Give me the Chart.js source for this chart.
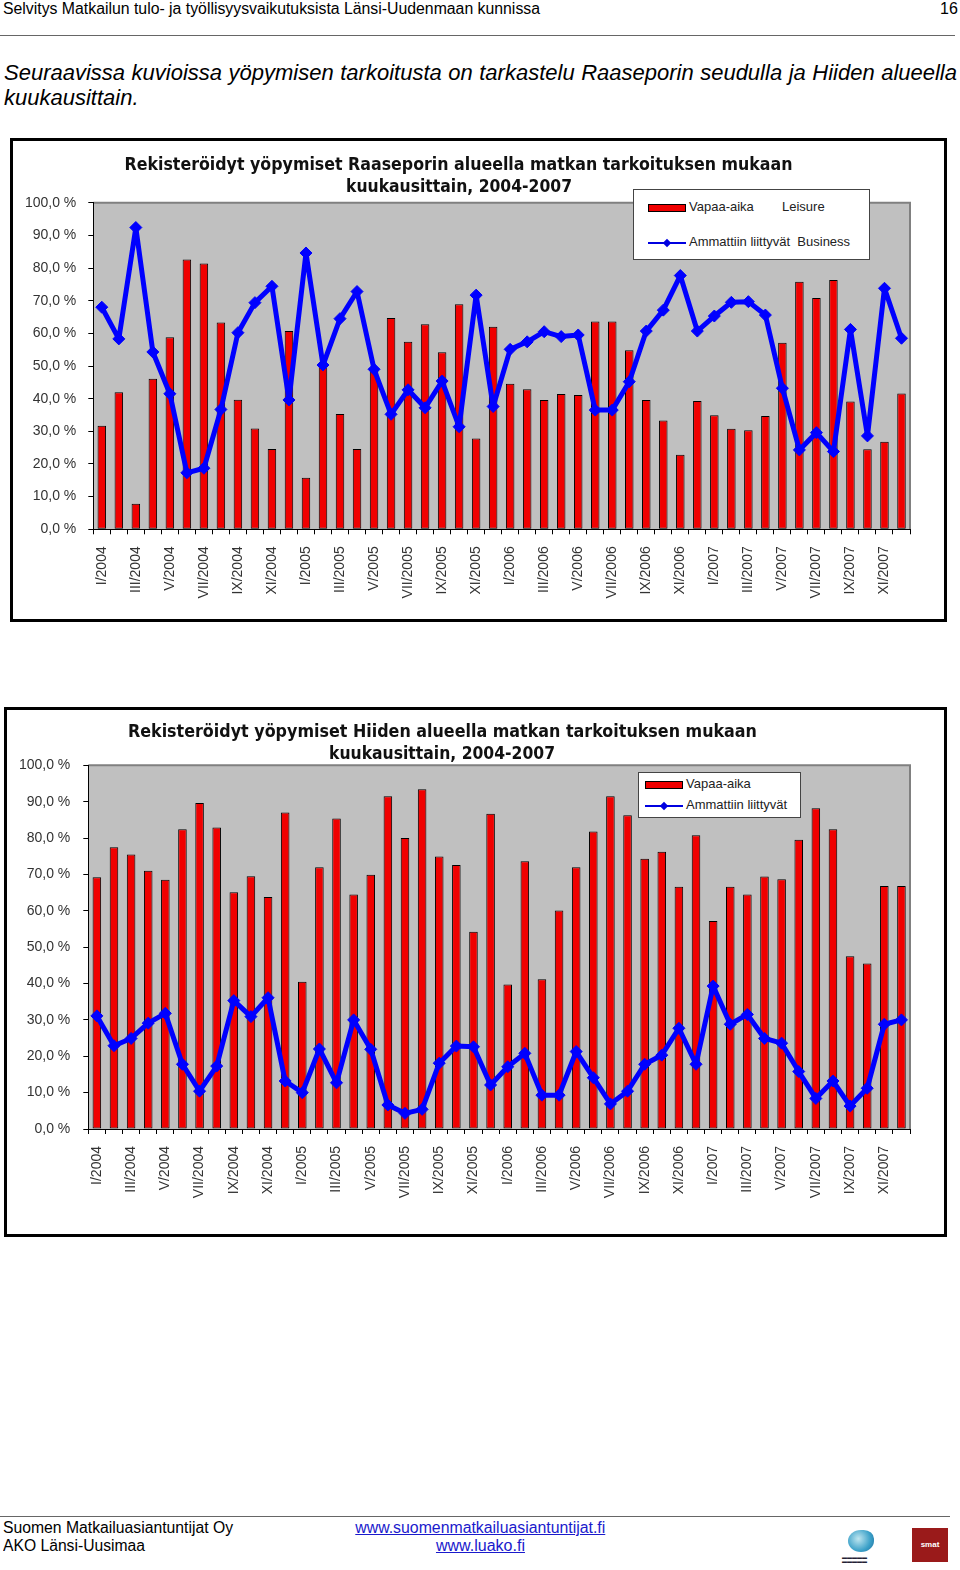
<!DOCTYPE html>
<html><head><meta charset="utf-8">
<script src="https://cdn.jsdelivr.net/npm/chart.js@4.4.0/dist/chart.umd.min.js"></script>
<style>
body{margin:0;width:960px;height:1570px;position:relative;background:#fff;font-family:"Liberation Sans",Arial,sans-serif;overflow:hidden;color:#000}
.abs{position:absolute;white-space:nowrap}
.frame{position:absolute;border:3px solid #000;box-sizing:border-box;background:#fff}
.frame canvas{position:absolute;left:0;top:0}
.ttl{position:absolute;left:0;text-align:center;font-family:"DejaVu Sans",sans-serif;font-weight:bold;font-size:17px;color:#111;white-space:nowrap}
.ttl span{display:inline-block;transform-origin:50% 50%}
.leg{position:absolute;background:#fff;border:1px solid #444;box-sizing:border-box;font-family:"Liberation Sans",Arial,sans-serif;font-size:13px;color:#222}
.sw{position:absolute;background:#f00000;border:1px solid #000;box-sizing:border-box}
.ln{position:absolute;height:2px;background:#0000e0}
.dm{position:absolute;width:6px;height:6px;background:#0000e0;transform:rotate(45deg)}
.fit{display:inline-block;transform-origin:0 50%}
.fitc{display:inline-block;transform-origin:50% 50%;text-decoration:underline}
</style>
</head><body>

<div class="abs" style="left:3px;top:0px;font-family:'Liberation Sans Narrow','Liberation Sans',sans-serif;font-size:16px;"><span class="fit" data-w="537">Selvitys Matkailun tulo- ja työllisyysvaikutuksista Länsi-Uudenmaan kunnissa</span></div>
<div class="abs" style="left:940px;top:0px;font-family:'Liberation Sans Narrow','Liberation Sans',sans-serif;font-size:16px;">16</div>
<div class="abs" style="left:0;top:35px;width:955px;border-top:1px solid #666;"></div>

<div class="abs" style="left:4px;top:60px;width:953px;white-space:normal;font-family:'Liberation Sans Narrow','Liberation Sans',sans-serif;font-style:italic;font-size:22px;line-height:25px;text-align:justify;text-align-last:left;">Seuraavissa kuvioissa yöpymisen tarkoitusta on tarkastelu Raaseporin seudulla ja Hiiden alueella kuukausittain.</div>

<div class="frame" style="left:10px;top:138px;width:937px;height:484px;">
  <canvas id="c1" width="931" height="478"></canvas>
  <div class="ttl" style="top:13px;width:892px;"><span data-w="668">Rekisteröidyt yöpymiset Raaseporin alueella matkan tarkoituksen mukaan</span></div>
  <div class="ttl" style="top:35px;width:892px;"><span data-w="226">kuukausittain, 2004-2007</span></div>
  <div class="leg" style="left:620px;top:48px;width:237px;height:71px;">
    <div class="sw" style="left:14px;top:14px;width:38px;height:8px;"></div>
    <div class="abs" style="left:55px;top:9px;">Vapaa-aika</div>
    <div class="abs" style="left:148px;top:9px;">Leisure</div>
    <div class="ln" style="left:14px;top:52px;width:38px;"></div>
    <div class="dm" style="left:30px;top:50px;"></div>
    <div class="abs" style="left:55px;top:44px;">Ammattiin liittyvät&nbsp; Business</div>
  </div>
</div>

<div class="frame" style="left:4px;top:707px;width:943px;height:530px;">
  <canvas id="c2" width="937" height="524"></canvas>
  <div class="ttl" style="top:11px;width:870px;"><span data-w="629">Rekisteröidyt yöpymiset Hiiden alueella matkan tarkoituksen mukaan</span></div>
  <div class="ttl" style="top:33px;width:870px;"><span data-w="226">kuukausittain, 2004-2007</span></div>
  <div class="leg" style="left:631px;top:62px;width:163px;height:46px;">
    <div class="sw" style="left:6px;top:8px;width:38px;height:8px;"></div>
    <div class="abs" style="left:47px;top:3px;">Vapaa-aika</div>
    <div class="ln" style="left:6px;top:32px;width:38px;"></div>
    <div class="dm" style="left:22px;top:30px;"></div>
    <div class="abs" style="left:47px;top:24px;">Ammattiin liittyvät</div>
  </div>
</div>

<div class="abs" style="left:0;top:1516px;width:950px;border-top:1px solid #666;"></div>
<div class="abs" style="left:3px;top:1519px;font-size:16px;line-height:18px;"><span class="fit" data-w="230">Suomen Matkailuasiantuntijat Oy</span></div>
<div class="abs" style="left:3px;top:1537px;font-size:16px;line-height:18px;"><span class="fit" data-w="142">AKO Länsi-Uusimaa</span></div>
<div class="abs" style="left:330px;top:1519px;width:300px;text-align:center;font-size:16px;line-height:18px;color:#1a1acc;"><span class="fitc" data-w="250">www.suomenmatkailuasiantuntijat.fi</span></div>
<div class="abs" style="left:330px;top:1537px;width:300px;text-align:center;font-size:16px;line-height:18px;color:#1a1acc;"><span class="fitc" data-w="89">www.luako.fi</span></div>
<div class="abs" style="left:848px;top:1530px;width:26px;height:22px;border-radius:50% 40% 50% 50%;background:radial-gradient(circle at 40% 40%,#bfe6f0,#3aa0c8 60%,#1d6a9a);"></div>
<div class="abs" style="left:842px;top:1555px;width:52px;height:8px;font-size:5px;line-height:4px;color:#223;">▬▬▬▬▬<br>▬▬▬▬▬</div>
<div class="abs" style="left:912px;top:1528px;width:36px;height:34px;background:#9a1a1a;color:#fff;font-size:8px;font-weight:bold;text-align:center;line-height:34px;">smat</div>

<script>
const categories = [
 "I/2004","II/2004","III/2004","IV/2004","V/2004","VI/2004","VII/2004","VIII/2004","IX/2004","X/2004","XI/2004","XII/2004",
 "I/2005","II/2005","III/2005","IV/2005","V/2005","VI/2005","VII/2005","VIII/2005","IX/2005","X/2005","XI/2005","XII/2005",
 "I/2006","II/2006","III/2006","IV/2006","V/2006","VI/2006","VII/2006","VIII/2006","IX/2006","X/2006","XI/2006","XII/2006",
 "I/2007","II/2007","III/2007","IV/2007","V/2007","VI/2007","VII/2007","VIII/2007","IX/2007","X/2007","XI/2007","XII/2007"];
const yTickLabels = ["0,0 %","10,0 %","20,0 %","30,0 %","40,0 %","50,0 %","60,0 %","70,0 %","80,0 %","90,0 %","100,0 %"];

// Raasepori
const raaseporiLeisure = [31.7,42.0,7.8,46.1,58.8,82.6,81.4,63.3,39.7,30.9,24.6,60.7,
 15.8,50.5,35.3,24.6,49.2,64.7,57.4,62.8,54.2,68.9,27.8,62.0,
 44.6,42.9,39.6,41.4,41.1,63.6,63.6,54.8,39.6,33.3,22.8,39.3,
 34.9,30.8,30.3,34.7,57.1,75.8,70.8,76.3,39.1,24.5,26.8,41.6];
const raaseporiBusiness = [68.0,58.3,92.4,54.3,41.5,17.3,18.7,36.7,60.2,69.4,74.4,39.6,
 84.6,50.3,64.5,72.8,49.0,35.2,42.7,37.2,45.4,31.4,71.7,37.6,
 55.1,57.4,60.5,59.0,59.5,36.5,36.5,45.2,60.7,67.1,77.7,60.7,
 65.3,69.5,69.7,65.6,43.2,24.3,29.6,23.8,61.2,28.6,73.8,58.5];

// Hiisi
const hiisiLeisure = [69.2,77.5,75.5,71.0,68.5,82.4,89.6,82.9,65.1,69.5,63.8,87.0,
 40.5,72.0,85.4,64.5,69.9,91.5,80.0,93.4,74.9,72.6,54.2,86.7,
 39.7,73.6,41.2,60.1,72.0,81.8,91.5,86.3,74.3,76.2,66.6,80.8,
 57.2,66.6,64.5,69.4,68.7,79.5,88.2,82.4,47.5,45.5,66.8,66.8];
const hiisiBusiness = [31.1,22.9,24.9,29.1,31.8,17.8,10.4,17.3,35.3,30.9,36.1,13.2,
 10.0,22.0,12.7,30.0,21.9,6.6,4.3,5.4,18.1,22.8,22.6,12.1,
 17.1,20.8,9.3,9.3,21.3,14.1,6.9,10.4,17.8,20.3,27.7,17.8,
 39.3,28.8,31.5,24.9,23.6,15.8,8.4,13.2,6.3,11.2,28.8,30.0];

const plotBg = {
  id:'plotBg',
  beforeDraw(chart){
    const {ctx, chartArea:a} = chart;
    ctx.save();
    ctx.fillStyle = '#c0c0c0';
    ctx.fillRect(a.left, a.top, a.right-a.left, a.bottom-a.top);
    ctx.strokeStyle = '#808080';
    ctx.lineWidth = 2;
    ctx.beginPath();
    ctx.moveTo(a.left, a.top); ctx.lineTo(a.right, a.top); ctx.lineTo(a.right, a.bottom);
    ctx.stroke();
    ctx.restore();
  }
};

function makeChart(id, leisure, business, pad, yW, xH, yPad){
  new Chart(document.getElementById(id), {
    data:{
      labels: categories,
      datasets:[
        {type:'line', label:'Ammattiin liittyvät', data:business, order:0,
         borderColor:'#0000ff', backgroundColor:'#0000ff', borderWidth:5,
         borderJoinStyle:'round', borderCapStyle:'round',
         pointStyle:'rectRot', pointRadius:6, pointBorderWidth:1, tension:0},
        {type:'bar', label:'Vapaa-aika', data:leisure, order:1,
         backgroundColor:'#f00000', borderColor:'#000', borderWidth:1, borderSkipped:false,
         barPercentage:0.5, categoryPercentage:1}
      ]
    },
    options:{
      responsive:false, animation:false, devicePixelRatio:1,
      layout:{padding:pad},
      plugins:{legend:{display:false}, tooltip:{enabled:false}, title:{display:false}},
      scales:{
        x:{
          afterFit(s){ s.height = xH; },
          grid:{display:true, drawOnChartArea:false, offset:true, tickLength:5, color:'#000', tickColor:'#000'},
          border:{color:'#000', width:1},
          ticks:{autoSkip:false, maxRotation:90, minRotation:90, padding:12, color:'#333',
                 font:{family:'Liberation Sans, Arial', size:14},
                 callback:(v,i)=> i%2===0 ? categories[i] : ''}
        },
        y:{
          min:0, max:100,
          afterFit(s){ s.width = yW; },
          grid:{display:true, drawOnChartArea:false, tickLength:5, color:'#000', tickColor:'#000'},
          border:{color:'#000', width:1},
          ticks:{stepSize:10, padding:yPad, color:'#333', font:{family:'Liberation Sans, Arial', size:14},
                 callback:(v,i)=> yTickLabels[i]}
        }
      }
    },
    plugins:[plotBg]
  });
}

makeChart('c1', raaseporiLeisure, raaseporiBusiness, {left:0, right:34, top:61.7, bottom:0}, 80.3, 89.7, 12);
makeChart('c2', hiisiLeisure, hiisiBusiness, {left:0, right:34, top:55.3, bottom:0}, 81.3, 105, 13);

document.querySelectorAll('[data-w]').forEach(el=>{
  const w = el.getBoundingClientRect().width;
  const t = parseFloat(el.dataset.w);
  if (w>0) el.style.transform = 'scaleX(' + (t/w) + ')';
});
</script>
</body></html>
